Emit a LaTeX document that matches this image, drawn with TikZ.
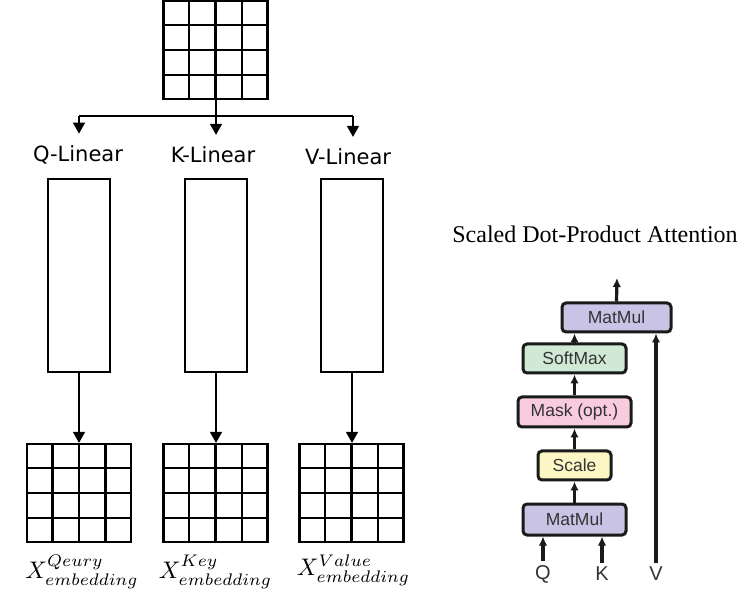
\documentclass[tikz,border=0pt]{standalone}
\usepackage{graphicx}
\usepackage{fontspec}
\newfontfamily\dejavu{DejaVu Sans}
\newfontfamily\arialfont{Liberation Sans}
\newfontfamily\tmsfont{Liberation Serif}
\usetikzlibrary{calc,positioning,arrows.meta}
\definecolor{mmcol}{HTML}{C9C3E5}
\definecolor{smcol}{HTML}{CFE9D4}
\definecolor{mkcol}{HTML}{F8CBDF}
\definecolor{sccol}{HTML}{FBF6C3}
\definecolor{txtgray}{HTML}{333333}
\definecolor{linegray}{HTML}{1A1A1A}

\begin{document}
\begin{tikzpicture}[x=1pt,y=-1pt,
  cellbox/.style={draw=black,line width=2.2pt,minimum width=104pt,minimum height=98pt,inner sep=0pt},
  linbox/.style={draw=black,line width=2.2pt,minimum width=62pt,minimum height=193pt,inner sep=0pt},
  lintxt/.style={font=\dejavu\fontsize{21}{25}\selectfont,inner sep=0pt,outer sep=12pt},
  embtxt/.style={inner sep=0pt},
  arr/.style={line width=1.5pt,-{Triangle[width=12pt,length=11pt]}},
  op/.style={draw=linegray,line width=3pt,rounded corners=4pt,minimum height=29pt,inner sep=0pt,
    font=\arialfont\fontsize{17.5}{20}\selectfont,text=txtgray},
  darr/.style={draw=linegray,line width=3.2pt,-{Latex[length=9pt,width=8.5pt]}},
  qkv/.style={font=\arialfont\fontsize{20}{24}\selectfont,text=txtgray,inner sep=0pt,outer sep=4pt}]
\useasboundingbox (0,0) rectangle (750,601);

\foreach \nm/\cx/\cy in {inp/215.5/50,qemb/79/493,kemb/215.5/493,vemb/351.5/493}{
  \node[cellbox] (\nm) at (\cx,\cy) {};
  \foreach \k in {0.25,0.5,0.75}{
    \draw[line width=2.2pt] ($(\nm.north west)!\k!(\nm.north east)$) -- ($(\nm.south west)!\k!(\nm.south east)$);
    \draw[line width=2.2pt] ($(\nm.north west)!\k!(\nm.south west)$) -- ($(\nm.north east)!\k!(\nm.south east)$);
  }
}

\node[linbox] (qlin) at (79,275.5) {};
\node[linbox] (klin) at (216,275.5) {};
\node[linbox] (vlin) at (352,275.5) {};
\node[lintxt] (qtxt) at (78,155) {Q-Linear};
\node[lintxt] (ktxt) at (213,155) {K-Linear};
\node[lintxt] (vtxt) at (348,157) {V-Linear};

\coordinate (split) at (216,116);
\coordinate (qs) at (79,116);
\coordinate (vs) at (353,116);
\draw[line width=1.5pt] (split |- inp.south) -- (split);
\draw[line width=1.5pt] (qs) -- (vs);
\draw[arr] (qs) -- (qs |- qtxt.north);
\draw[arr] (split) -- (split |- ktxt.north);
\draw[arr] (vs) -- (vs |- vtxt.north);
\draw[arr] (qlin) -- (qemb);
\draw[arr] (klin.south) -- (klin.south |- kemb.north);
\draw[arr] (vlin.south) -- (vlin.south |- vemb.north);

\node[embtxt,below=12pt of qemb,xshift=3pt] (qlab) {\scalebox{2.4}{$X^{Qeury}_{embedding}$}};
\node[embtxt,below=12pt of kemb] (klab) {\scalebox{2.4}{$X^{Key}_{embedding}$}};
\node[embtxt,below=12pt of vemb,xshift=2pt] (vlab) {\scalebox{2.4}{$X^{Value}_{embedding}$}};

\node[font=\tmsfont\fontsize{24}{28}\selectfont,inner sep=0pt] (title) at (595,234) {Scaled Dot-Product Attention};
\node[op,fill=mmcol,minimum width=103pt,minimum height=31pt] (mm1) at (574.5,519.5) {MatMul};
\node[op,fill=sccol,minimum width=73pt,above=21pt of mm1] (scale) {Scale};
\node[op,fill=mkcol,minimum width=113pt,minimum height=30pt,above=21pt of scale] (mask) {Mask (opt.)};
\node[op,fill=smcol,minimum width=103pt,above=21pt of mask] (soft) {SoftMax};
\node[op,fill=mmcol,minimum width=109pt] (mm2) at (616.5,317.5) {MatMul};
\coordinate (out) at (617,278);
\node[qkv] (qin) at (543,574) {Q};
\node[qkv] (kin) at (602,574) {K};
\node[qkv] (vin) at (656,574) {V};

\draw[darr] (mm1) -- (scale);
\draw[darr] (scale) -- (mask);
\draw[darr] (mask) -- (soft);
\draw[darr] (soft.north) -- (soft.north |- mm2.south);
\draw[darr] (mm2.north) -- (out);
\draw[darr] (qin.north) -- (qin.north |- mm1.south);
\draw[darr] (kin.north) -- (kin.north |- mm1.south);
\draw[darr] (vin.north) -- (vin.north |- mm2.south);
\end{tikzpicture}
\end{document}
